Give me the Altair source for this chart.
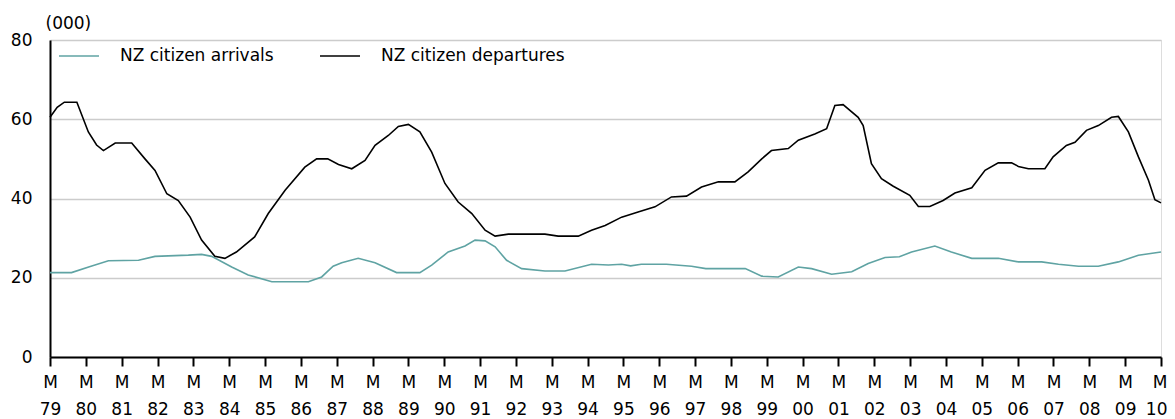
import altair as alt
import pandas as pd

# Years ending March (decimal year positions) and values in thousands
dep_t = [1979.0, 1979.2, 1979.4, 1979.75, 1980.07, 1980.3, 1980.49, 1980.82, 1981.28, 1981.65,
         1981.93, 1982.26, 1982.58, 1982.91, 1983.23, 1983.6, 1983.88, 1984.2, 1984.71, 1985.09,
         1985.56, 1986.11, 1986.44, 1986.75, 1987.05, 1987.42, 1987.79, 1988.07, 1988.44, 1988.72,
         1989.0, 1989.32, 1989.65, 1990.02, 1990.39, 1990.77, 1991.14, 1991.42, 1991.79, 1992.81,
         1993.18, 1993.74, 1994.11, 1994.49, 1994.95, 1995.41, 1995.88, 1996.34, 1996.76, 1997.18,
         1997.65, 1998.11, 1998.48, 1998.86, 1999.13, 1999.6, 1999.88, 2000.34, 2000.67, 2000.9,
         2001.13, 2001.55, 2001.69, 2001.92, 2002.2, 2002.53, 2002.99, 2003.23, 2003.55, 2003.92,
         2004.25, 2004.72, 2005.09, 2005.46, 2005.83, 2006.02, 2006.3, 2006.76, 2006.99, 2007.36,
         2007.6, 2007.92, 2008.25, 2008.62, 2008.81, 2009.09, 2009.37, 2009.65, 2009.83, 2010.0]
dep_v = [60.5, 63.0, 64.3, 64.3, 56.8, 53.5, 52.1, 54.0, 54.0, 50.0,
         47.1, 41.2, 39.5, 35.3, 29.5, 25.4, 24.9, 26.5, 30.3, 36.2,
         42.1, 47.9, 50.0, 50.0, 48.6, 47.5, 49.6, 53.4, 55.9, 58.2,
         58.7, 56.8, 51.7, 43.8, 39.1, 36.2, 32.0, 30.5, 31.0, 31.0,
         30.5, 30.5, 32.0, 33.2, 35.3, 36.6, 37.9, 40.4, 40.6, 42.9,
         44.2, 44.2, 46.7, 50.0, 52.1, 52.6, 54.7, 56.3, 57.6, 63.5,
         63.7, 60.5, 58.4, 48.8, 45.0, 43.1, 40.8, 38.0, 38.0, 39.5,
         41.4, 42.7, 47.1, 49.0, 49.0, 48.1, 47.5, 47.5, 50.5, 53.4,
         54.2, 57.2, 58.4, 60.5, 60.7, 56.8, 50.5, 44.6, 39.7, 38.9]

arr_t = [1979.0, 1979.6, 1980.1, 1980.63, 1981.47, 1981.93, 1982.86, 1983.23, 1983.51, 1984.07,
         1984.53, 1985.19, 1986.21, 1986.58, 1986.9, 1987.14, 1987.6, 1988.07, 1988.67, 1989.32,
         1989.65, 1990.11, 1990.58, 1990.86, 1991.14, 1991.42, 1991.74, 1992.16, 1992.81, 1993.37,
         1994.11, 1994.58, 1994.95, 1995.2, 1995.5, 1996.2, 1996.9, 1997.3, 1998.4, 1998.86,
         1999.32, 1999.88, 2000.25, 2000.81, 2001.37, 2001.83, 2002.3, 2002.7, 2003.04, 2003.69,
         2004.15, 2004.72, 2005.46, 2006.02, 2006.67, 2007.14, 2007.7, 2008.25, 2008.81, 2009.37,
         2010.0]
arr_v = [21.3, 21.3, 22.8, 24.3, 24.4, 25.4, 25.7, 25.9, 25.4, 22.7,
         20.7, 19.0, 19.0, 20.2, 22.9, 23.8, 24.9, 23.8, 21.3, 21.3,
         23.2, 26.5, 28.0, 29.5, 29.3, 27.8, 24.4, 22.3, 21.7, 21.7,
         23.4, 23.2, 23.4, 23.0, 23.4, 23.4, 22.9, 22.3, 22.3, 20.4,
         20.2, 22.7, 22.3, 20.9, 21.5, 23.6, 25.1, 25.3, 26.5, 28.0,
         26.5, 24.9, 24.9, 24.0, 24.0, 23.4, 22.9, 22.9, 24.0, 25.7,
         26.5]

series_names = ["NZ citizen arrivals", "NZ citizen departures"]
series_colors = ["#5fa3a3", "#000000"]
tick_years = list(range(1979, 2011))
y_ticks = [0, 20, 40, 60, 80]

df = pd.concat([
    pd.DataFrame({"t": arr_t, "v": arr_v, "series": series_names[0]}),
    pd.DataFrame({"t": dep_t, "v": dep_v, "series": series_names[1]}),
])

FONT = "DejaVu Sans"

chart = alt.Chart(df).mark_line(strokeWidth=1.6).encode(
    x=alt.X("t:Q",
            scale=alt.Scale(domain=[1979, 2010], nice=False, zero=False),
            axis=alt.Axis(values=tick_years,
                          labelExpr="['M', slice(toString(datum.value), 2)]",
                          labelFont=FONT, labelFontSize=17, labelLineHeight=27,
                          labelColor="black", labelPadding=8,
                          labelAlign={"condition": {"test": "datum.value == 2010", "value": "right"},
                                      "value": "center"},
                          labelOffset={"condition": {"test": "datum.value == 2010", "value": 6},
                                       "value": 0},
                          labelOverlap=False, labelFlush=False, labelBound=False,
                          tickSize=9, tickWidth=2, tickColor="black",
                          domainColor="black", domainWidth=2,
                          grid=False, title=None)),
    y=alt.Y("v:Q",
            scale=alt.Scale(domain=[0, 80], nice=False),
            axis=alt.Axis(values=y_ticks, ticks=False, labelPadding=18,
                          labelFont=FONT, labelFontSize=17, labelColor="black",
                          domainColor="black", domainWidth=2,
                          gridColor="#cccccc", gridWidth=1.5,
                          title="(000)", titleAngle=0, titleX=-5, titleY=-12,
                          titleAlign="left", titleBaseline="alphabetic",
                          titleFont=FONT, titleFontSize=17, titleFontWeight="normal",
                          titleColor="black")),
    color=alt.Color("series:N",
                    scale=alt.Scale(domain=series_names, range=series_colors),
                    legend=alt.Legend(orient="none", legendX=8, legendY=-5,
                                      direction="horizontal", title=None,
                                      symbolType="stroke", symbolSize=1600,
                                      symbolStrokeWidth=1.5,
                                      labelFont=FONT, labelFontSize=17,
                                      labelColor="black", labelOffset=20,
                                      labelLimit=400,
                                      columnPadding=43, padding=0)),
).properties(
    width=1111,
    height=317,
    autosize=alt.AutoSizeParams(type="none"),
    padding={"left": 42, "top": 32, "right": 6, "bottom": 60},
).configure_view(stroke=None).configure(background="white")

chart.save("out.html", embed_options={"renderer": "svg", "actions": False})
